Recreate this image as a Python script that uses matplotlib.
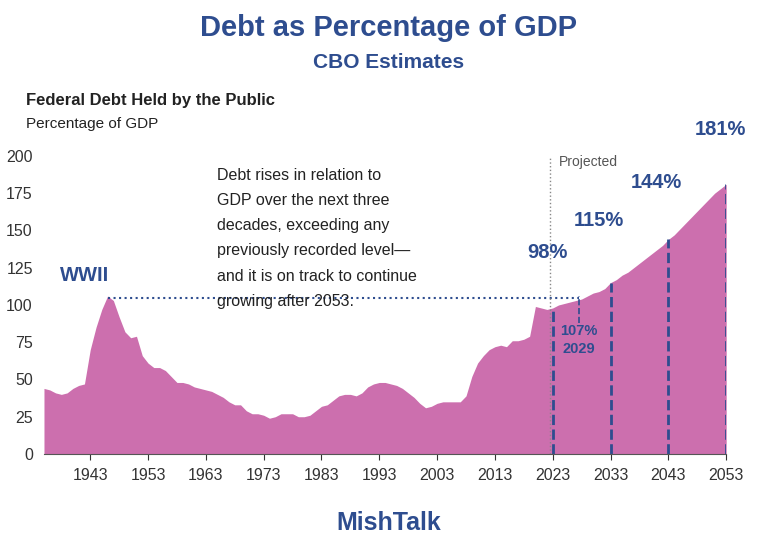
import matplotlib.pyplot as plt
import numpy as np

plt.rcParams["font.family"] = ["Liberation Sans", "DejaVu Sans"]

# historical + projected federal debt held by the public, % of GDP
years = list(range(1935, 2054))
debt = [44, 43, 41, 40, 41, 44, 46, 47, 70, 85, 97, 106, 103, 92, 82, 78, 79, 66, 61, 58, 58, 56, 52, 48, 48, 47,
        45, 44, 43, 42, 40, 38, 35, 33, 33, 29, 27, 27, 26, 24, 25, 27, 27, 27, 25, 25, 26, 29, 32, 33,
        36, 39, 40, 40, 39, 41, 45, 47, 48, 48, 47, 46, 44, 41, 38, 34, 31, 32, 34, 35, 35, 35, 35, 39, 52,
        61, 66, 70, 72, 73, 72, 76, 76, 77, 79, 99, 98, 97, 98, 100, 101, 102, 103, 104, 106, 108, 109, 111,
        115, 117, 120, 122, 125, 128, 131, 134, 137, 140, 144, 147, 151, 155, 159, 163, 167, 171, 175, 178, 181]
marks = [2023, 2033, 2043, 2053]
mark_vals = [98, 115, 144, 181]
mark_labels = ["98%", "115%", "144%", "181%"]

BLUE = "#2E4D8F"
PINK = "#CC6FAE"

fig = plt.figure(figsize=(7.77, 5.55), dpi=100)
ax = fig.add_axes([0.0566, 0.182, 0.878, 0.537])
ax.fill_between(years, debt, color=PINK, linewidth=0)
ax.set_xlim(1935, 2053)
ax.set_ylim(0, 200)
ax.set_xticks(range(1943, 2054, 10))
ax.set_yticks(range(0, 201, 25))
for s in ["top", "right", "left"]:
    ax.spines[s].set_visible(False)
ax.spines["bottom"].set_color("#555555")
ax.tick_params(axis="y", length=0, labelsize=11.5, colors="#333333", pad=8)
ax.tick_params(axis="x", length=4, labelsize=11.5, colors="#333333", pad=6)

for x, v in zip(marks, mark_vals):
    ax.plot([x, x], [0, v], ls="--", color=BLUE, lw=2)
ax.plot([2027.5, 2027.5], [88, 106], ls="--", color=BLUE, lw=1.2)
ax.plot([1946, 2027.5], [105, 105], ls=":", color=BLUE, lw=1.5)
ax.axvline(2022.5, color="#888888", ls=":", lw=1)
ax.text(2024, 196, "Projected", fontsize=10, color="#555555", va="center")

label_pos = [(2022, 135), (2031, 157), (2041, 182), (2052, 218)]
for (x, y), t in zip(label_pos, mark_labels):
    ax.text(x, y, t, fontsize=14.5, fontweight="bold", color=BLUE, ha="center", va="center", clip_on=False)
ax.text(2027.5, 87, "107%\n2029", fontsize=10.5, fontweight="bold", color=BLUE, ha="center", va="top",
        linespacing=1.3)
ax.text(1942, 120, "WWII", fontsize=14.5, fontweight="bold", color=BLUE, ha="center", va="center")
ax.text(1965, 192, "Debt rises in relation to\nGDP over the next three\ndecades, exceeding any\n"
        "previously recorded level\u2014\nand it is on track to continue\ngrowing after 2053.",
        fontsize=11.5, color="#222222", va="top", linespacing=1.85)

fig.text(0.5, 0.935, "Debt as Percentage of GDP", ha="center", fontsize=21, fontweight="bold", color=BLUE)
fig.text(0.5, 0.877, "CBO Estimates", ha="center", fontsize=15, fontweight="bold", color=BLUE)
fig.text(0.033, 0.81, "Federal Debt Held by the Public", fontsize=12, fontweight="bold", color="#222222")
fig.text(0.033, 0.77, "Percentage of GDP", fontsize=11, color="#222222")
fig.text(0.5, 0.045, "MishTalk", ha="center", fontsize=18, fontweight="bold", color=BLUE)

fig.savefig("out.png", dpi=100)
